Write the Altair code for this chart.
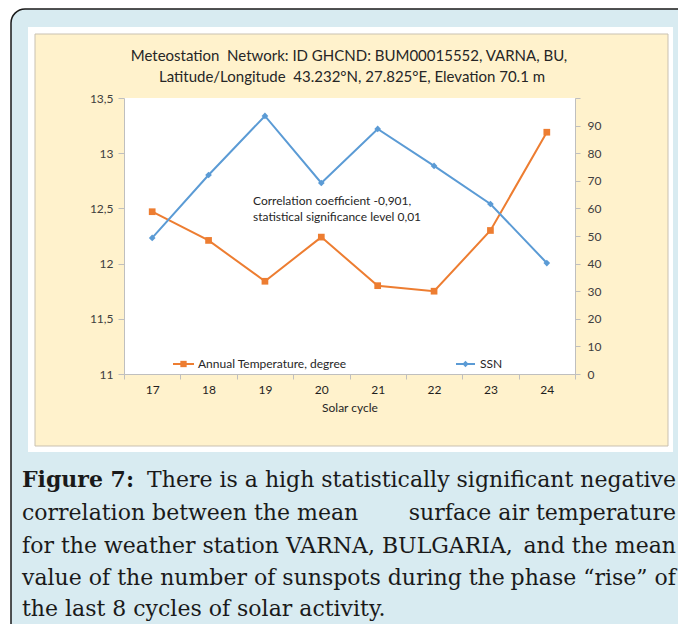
import altair as alt
import pandas as pd

# ---------------- data ----------------
cycles = [17, 18, 19, 20, 21, 22, 23, 24]
temperature = [12.47, 12.21, 11.84, 12.24, 11.80, 11.75, 12.30, 13.19]
ssn = [49.3, 72.1, 93.5, 69.2, 88.8, 75.4, 61.6, 40.2]

temp_ticks = [11, 11.5, 12, 12.5, 13, 13.5]
ssn_ticks = [0, 10, 20, 30, 40, 50, 60, 70, 80, 90, 100]

title_lines = ["Meteostation\u00a0 Network: ID GHCND: BUM00015552, VARNA, BU,",
               "Latitude/Longitude\u00a0 43.232°N, 27.825°E, Elevation 70.1 m"]
note_lines = ["Correlation coefficient -0,901,", "statistical significance level 0,01"]
legend_labels = ["Annual Temperature, degree", "SSN"]
x_title = "Solar cycle"
caption_bold = "Figure 7:"
caption_segments = [
    ("There is a high statistically significant negative", None),
    ("correlation between the mean", "surface air temperature"),
    ("for the weather station VARNA, BULGARIA,", "and the mean"),
    ("value of the number of sunspots during the", "phase “rise” of"),
    ("the last 8 cycles of solar activity.", None),
]

# ---------------- style ----------------
W, H = 451, 276
ORANGE = "#ed7d31"
BLUE = "#5b9bd5"
AXIS_GREY = "#bfbfbf"
LABEL = "#404040"
FONT = "Lato"
SERIF = "DejaVu Serif"
CAP_SIZE = 22

df = pd.DataFrame({"cycle": cycles, "temp": temperature, "ssn": ssn})
one = alt.Data(values=[{"k": 0}])


def rect(x, x2, y, y2, fill, stroke=None, sw=0, cr=0):
    kw = dict(fill=fill, cornerRadius=cr)
    if stroke:
        kw.update(stroke=stroke, strokeWidth=sw)
    else:
        kw.update(strokeWidth=0)
    return alt.Chart(one).mark_rect(**kw).encode(
        x=alt.value(x), x2=alt.value(x2), y=alt.value(y), y2=alt.value(y2))


def text(t, x, y, size, align="left", font=FONT, color="#262626", weight="normal"):
    return alt.Chart(one).mark_text(
        align=align, baseline="middle", font=font, fontSize=size,
        color=color, fontWeight=weight).encode(
        x=alt.value(x), y=alt.value(y), text=alt.value(t))


# page -> plot coordinates: plot origin at page (124, 98)
bg_blue = rect(-113, 580, -89, 560, "#d8ebf1", stroke="#1a1a1a", sw=1.5, cr=14)
bg_white = rect(-96, 549, -71, 354, "#ffffff")
bg_beige = rect(-89, 544, -64, 348, "#fff2cc", stroke="#c9c1b1", sw=1)
plot_bg = rect(0, W, 0, H, "#ffffff")

xenc = alt.X(
    "cycle:O",
    scale=alt.Scale(type="band", paddingInner=0, paddingOuter=0),
    bandPosition=0.5,
    axis=alt.Axis(
        title=x_title, tickBand="extent", labelAngle=0, zindex=1,
        domainColor=AXIS_GREY, tickColor=AXIS_GREY, tickSize=5,
        labelFont=FONT, labelFontSize=12, labelColor="#1f1f1f", labelPadding=5,
        titleFont=FONT, titleFontSize=12, titleFontWeight="normal", titleColor="#262626",
        titlePadding=7, grid=False),
)

temp_layer = alt.Chart(df).mark_line(
    color=ORANGE, strokeWidth=2,
    point=alt.OverlayMarkDef(shape="square", size=45, filled=True, color=ORANGE, opacity=1),
).encode(
    x=xenc,
    y=alt.Y("temp:Q", scale=alt.Scale(domain=[11, 13.5], zero=False, nice=False),
            axis=alt.Axis(orient="left", values=temp_ticks, title=None, zindex=1,
                          labelExpr="replace(toString(datum.value), '.', ',')",
                          domainColor=AXIS_GREY, tickColor=AXIS_GREY, tickSize=6,
                          labelFont=FONT, labelFontSize=12, labelColor=LABEL,
                          labelPadding=5, grid=False)),
)

ssn_layer = alt.Chart(df).mark_line(
    color=BLUE, strokeWidth=2,
    point=alt.OverlayMarkDef(shape="diamond", size=45, filled=True, color=BLUE, opacity=1),
).encode(
    x=xenc,
    y=alt.Y("ssn:Q", scale=alt.Scale(domain=[0, 100], nice=False),
            axis=alt.Axis(orient="right", values=ssn_ticks, title=None, zindex=1,
                          labelExpr="datum.value == 100 ? '' : datum.label",
                          domainColor=AXIS_GREY, tickColor=AXIS_GREY, tickSize=5,
                          labelFont=FONT, labelFontSize=12, labelColor=LABEL,
                          labelPadding=7, grid=False)),
)

layers = [bg_blue, bg_white, bg_beige, plot_bg, temp_layer, ssn_layer]

# title
layers.append(text(title_lines[0], 225, -42, 15, align="center"))
layers.append(text(title_lines[1], 228, -21, 15, align="center"))

# annotation
layers.append(text(note_lines[0], 129, 103, 12))
layers.append(text(note_lines[1], 129, 119, 12))

# legend
layers.append(alt.Chart(one).mark_rule(color=ORANGE, strokeWidth=2).encode(
    x=alt.value(49), x2=alt.value(70), y=alt.value(266)))
layers.append(alt.Chart(one).mark_point(shape="square", filled=True, size=40, color=ORANGE, opacity=1).encode(
    x=alt.value(59.5), y=alt.value(266)))
layers.append(text(legend_labels[0], 74, 266, 12))
layers.append(alt.Chart(one).mark_rule(color=BLUE, strokeWidth=2).encode(
    x=alt.value(332), x2=alt.value(351), y=alt.value(266)))
layers.append(alt.Chart(one).mark_point(shape="diamond", filled=True, size=40, color=BLUE, opacity=1).encode(
    x=alt.value(341.5), y=alt.value(266)))
layers.append(text(legend_labels[1], 356, 266, 12))

# caption
CAP_L, CAP_R = -102, 552
cap_y = [382, 415, 448, 480, 511]
layers.append(text(caption_bold, CAP_L, cap_y[0], CAP_SIZE, font=SERIF, color="#1a1a1a", weight="bold"))
for i, (a, b) in enumerate(caption_segments):
    if i == 0:
        layers.append(text(a, CAP_R, cap_y[i], CAP_SIZE, align="right", font=SERIF, color="#1a1a1a"))
    elif b is None:
        layers.append(text(a, CAP_L, cap_y[i], CAP_SIZE, font=SERIF, color="#1a1a1a"))
    else:
        layers.append(text(a, CAP_L, cap_y[i], CAP_SIZE, font=SERIF, color="#1a1a1a"))
        layers.append(text(b, CAP_R, cap_y[i], CAP_SIZE, align="right", font=SERIF, color="#1a1a1a"))

chart = alt.layer(*layers).resolve_scale(y="independent").properties(
    width=W, height=H,
    padding={"left": 116, "top": 90, "right": 103, "bottom": 250},
    autosize=alt.AutoSizeParams(type="none"),
    background="white",
).configure_view(stroke=None)

chart.save("out.html", embed_options={"renderer": "svg", "actions": False})
